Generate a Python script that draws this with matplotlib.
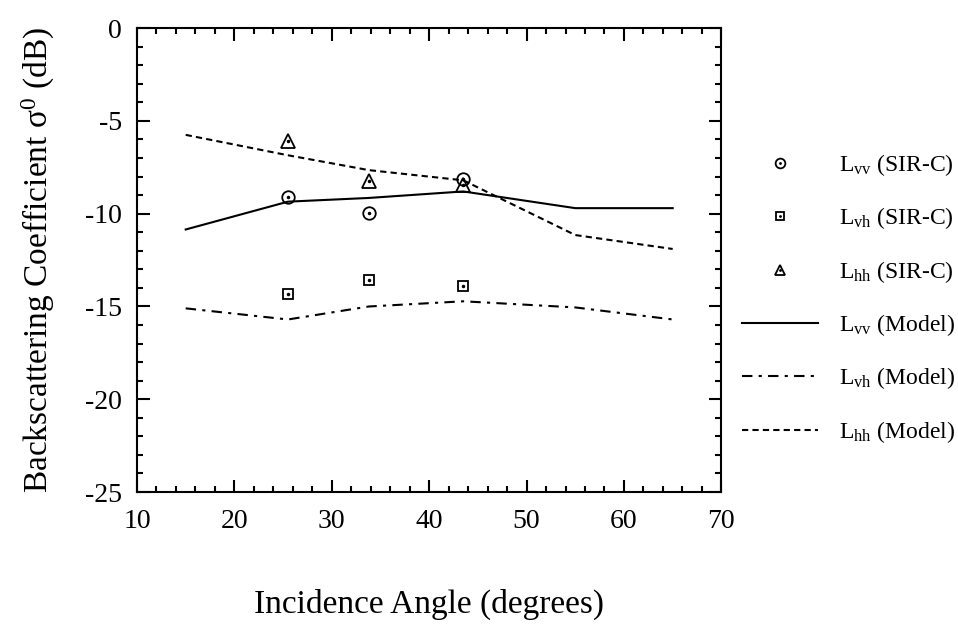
import matplotlib
matplotlib.use('Agg')
import matplotlib.pyplot as plt
from matplotlib.lines import Line2D
from matplotlib.ticker import MultipleLocator

plt.rcParams['font.family'] = ['Liberation Serif', 'DejaVu Serif']
plt.rcParams['mathtext.fontset'] = 'custom'
plt.rcParams['mathtext.rm'] = 'Liberation Serif'
plt.rcParams['mathtext.it'] = 'Liberation Serif:italic'
plt.rcParams['axes.unicode_minus'] = False

# Dados medidos (SIR-C)
ang_sirc = [25.5, 33.8, 43.5]
lvv_sirc = [-9.1, -9.95, -8.15]
lvh_sirc = [-14.35, -13.55, -13.9]
lhh_sirc = [-6.1, -8.25, -8.45]

# Modelo
ang_model = [15, 25.5, 33.8, 43.5, 55, 65]
lvv_model = [-10.85, -9.35, -9.15, -8.8, -9.7, -9.7]
lvh_model = [-15.1, -15.7, -15.0, -14.72, -15.05, -15.7]
lhh_model = [-5.75, -6.85, -7.65, -8.2, -11.15, -11.9]

fig = plt.figure(figsize=(9.58, 6.26), dpi=100)
ax = fig.add_axes([0.143, 0.214, 0.610, 0.741])

lw = 1.5
h_vv, = ax.plot(ang_model, lvv_model, color='black', lw=lw)
h_vh, = ax.plot(ang_model, lvh_model, color='black', lw=lw, dashes=(5, 3, 1.5, 3))
h_hh, = ax.plot(ang_model, lhh_model, color='black', lw=lw, dashes=(3, 2))

# marcadores com ponto central
mk = dict(linestyle='none', markerfacecolor='none', markeredgecolor='black', markeredgewidth=1.3)
dot = dict(linestyle='none', marker='.', color='black', markersize=3)
ax.plot(ang_sirc, lvv_sirc, marker='o', markersize=9, **mk)
ax.plot(ang_sirc, lvh_sirc, marker='s', markersize=7.5, **mk)
ax.plot(ang_sirc, lhh_sirc, marker='^', markersize=9.5, **mk)
for ys in (lvv_sirc, lvh_sirc, lhh_sirc):
    ax.plot(ang_sirc, ys, **dot)

ax.set_xlim(10, 70)
ax.set_ylim(-25, 0)
ax.xaxis.set_major_locator(MultipleLocator(10))
ax.xaxis.set_minor_locator(MultipleLocator(2))
ax.yaxis.set_major_locator(MultipleLocator(5))
ax.yaxis.set_minor_locator(MultipleLocator(1))
ax.tick_params(which='both', direction='in', top=True, right=True, width=1.5, labelsize=20)
ax.tick_params(which='major', length=9)
ax.tick_params(axis='x', which='major', pad=12)
ax.tick_params(axis='y', which='major', pad=11)
ax.tick_params(which='minor', length=4)
for s in ax.spines.values():
    s.set_linewidth(1.5)

ax.set_xlabel('Incidence Angle (degrees)', fontsize=24, labelpad=40)
ax.set_ylabel('Backscattering Coefficient σ$^0$ (dB)', fontsize=24, labelpad=20)

# legenda (ponto central sobreposto aos marcadores)
leg_m = [Line2D([], [], marker=m, markersize=s, **mk) for m, s in (('o', 7), ('s', 6), ('^', 7))]
leg_d = Line2D([], [], marker='.', color='black', linestyle='none', markersize=2)
handles = [(leg_m[0], leg_d), (leg_m[1], leg_d), (leg_m[2], leg_d), h_vv, h_vh, h_hh]
labels = [r'L$_{\rm vv}$ (SIR-C)', r'L$_{\rm vh}$ (SIR-C)', r'L$_{\rm hh}$ (SIR-C)',
          r'L$_{\rm vv}$ (Model)', r'L$_{\rm vh}$ (Model)', r'L$_{\rm hh}$ (Model)']
fig.legend(handles, labels, loc='upper left', bbox_to_anchor=(0.765, 0.772),
           frameon=False, fontsize=17, handlelength=3.2, handletextpad=0.9,
           labelspacing=1.16, borderaxespad=0)

plt.savefig('out.png', dpi=100)
plt.close('all')
